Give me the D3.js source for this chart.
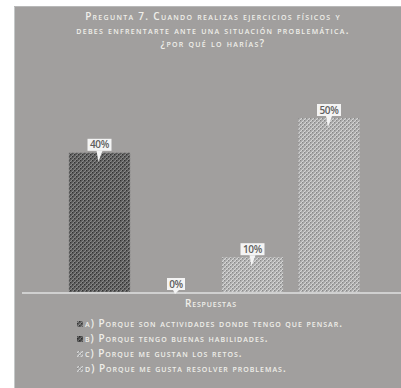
<!DOCTYPE html>
<html><head><meta charset="utf-8">
<script src="https://cdn.jsdelivr.net/npm/d3@7"></script>
<style>
html,body{margin:0;padding:0;background:#fff;}
svg{display:block;}
text{font-family:"Open Sans",Lato,sans-serif;font-variant:small-caps;}
</style></head>
<body>
<script>
const categories = ["a","b","c","d"];
const values = [40, 0, 10, 50];
const valueLabels = ["40%","0%","10%","50%"];
const legendLabels = [
  "a) Porque son actividades donde tengo que pensar.",
  "b) Porque tengo buenas habilidades.",
  "c) Porque me gustan los retos.",
  "d) Porque me gusta resolver problemas."
];
const titleLines = [
  "Pregunta 7. Cuando realizas ejercicios físicos y",
  "debes enfrentarte ante una situación problemática.",
  "¿por qué lo harías?"
];
const axisTitle = "Respuestas";

const W = 401, H = 388;
const svg = d3.select("body").append("svg").attr("width", W).attr("height", H);
const defs = svg.append("defs");

function makePattern(id, bg, c1, c2) {
  const p = defs.append("pattern").attr("id", id).attr("patternUnits","userSpaceOnUse")
    .attr("width", 4).attr("height", 4);
  p.append("rect").attr("width",4).attr("height",4).attr("fill",bg);
  p.append("path").attr("d","M0,4 L4,0 M-1,1 L1,-1 M3,5 L5,3").attr("stroke",c1).attr("stroke-width",1.1);
  p.append("rect").attr("x",0).attr("y",0).attr("width",1).attr("height",1).attr("fill",c2);
  p.append("rect").attr("x",2).attr("y",2).attr("width",1).attr("height",1).attr("fill",c2);
}
makePattern("pa", "#555", "#8a8a8a", "#333");
makePattern("pb", "#444", "#707070", "#2a2a2a");
makePattern("pc", "#a8a8a8", "#d8d8d8", "#8a8a8a");
makePattern("pd", "#a4a4a4", "#d6d6d6", "#888");
const fills = {a:"url(#pa)", b:"url(#pb)", c:"url(#pc)", d:"url(#pd)"};

// panel
svg.append("rect").attr("x",14).attr("y",6).attr("width",W-14).attr("height",H-6).attr("fill","#a19f9e");
svg.append("line").attr("x1",14.5).attr("x2",14.5).attr("y1",6).attr("y2",H).attr("stroke","#c4c8c8").attr("stroke-width",1);
svg.append("line").attr("x1",14).attr("x2",W).attr("y1",6.5).attr("y2",6.5).attr("stroke","#b8b8b8").attr("stroke-width",1);

// title
svg.append("g").selectAll("text").data(titleLines).join("text")
  .attr("x", 213).attr("y", (d,i) => 20 + i*13.5)
  .attr("text-anchor","middle").attr("fill","#f0efea")
  .attr("font-size", 10).attr("font-weight", 600).attr("letter-spacing", 1.3)
  .text(d => d);

const x = d3.scaleBand().domain(categories).range([61.25, 367.25]).paddingInner(0.2).paddingOuter(0.1);
const y = d3.scaleLinear().domain([0, 50]).range([292, 118]);

// bars
svg.append("g").selectAll("rect").data(categories).join("rect")
  .attr("x", d => x(d)).attr("width", x.bandwidth())
  .attr("y", (d,i) => y(values[i])).attr("height", (d,i) => y(0) - y(values[i]))
  .attr("fill", d => fills[d]);

// axis line
const axisG = svg.append("g").attr("transform", `translate(0,${y(0)+1})`)
  .call(d3.axisBottom(x).tickSize(0).tickFormat(""));
axisG.select(".domain").attr("d", `M22,0H${W}`).attr("stroke","#d0d0d0").attr("stroke-width",2);

// callout labels
const lab = svg.append("g").selectAll("g").data(categories).join("g")
  .attr("transform", (d,i) => `translate(${x(d)+x.bandwidth()/2},${y(values[i]) - 2})`);
lab.each(function(d,i){
  const g = d3.select(this);
  const t = valueLabels[i];
  const w = t.length * 6 + 6;
  g.append("path").attr("d", `M-3,0 L-1,${values[i] > 0 ? 11 : 4} L3,0 Z`).attr("fill","#f4f4f4");
  g.append("rect").attr("x", -w/2).attr("y", -12).attr("width", w).attr("height", 12).attr("fill","#f4f4f4");
  g.append("text").attr("x", 0).attr("y", -2.5).attr("text-anchor","middle")
    .attr("font-size", 10).attr("font-weight", 600).attr("fill","#5e5e5e").style("font-variant","normal")
    .attr("letter-spacing", -0.3).text(t);
});

// axis title
svg.append("text").attr("x", 211).attr("y", 307).attr("text-anchor","middle")
  .attr("fill","#f0efea").attr("font-size", 10).attr("font-weight", 600).attr("letter-spacing", 0.8).text(axisTitle);

// legend
const leg = svg.append("g").selectAll("g").data(categories).join("g")
  .attr("transform", (d,i) => `translate(77,${327 + i*15})`);
leg.append("rect").attr("x", 0).attr("y", -6).attr("width", 6).attr("height", 6).attr("fill", d => fills[d]);
leg.append("text").attr("x", 8).attr("y", 0).attr("fill","#f0efea")
  .attr("font-size", 10).attr("font-weight", 600).attr("letter-spacing", 1.0).text((d,i) => legendLabels[i]);
</script>
</body></html>
